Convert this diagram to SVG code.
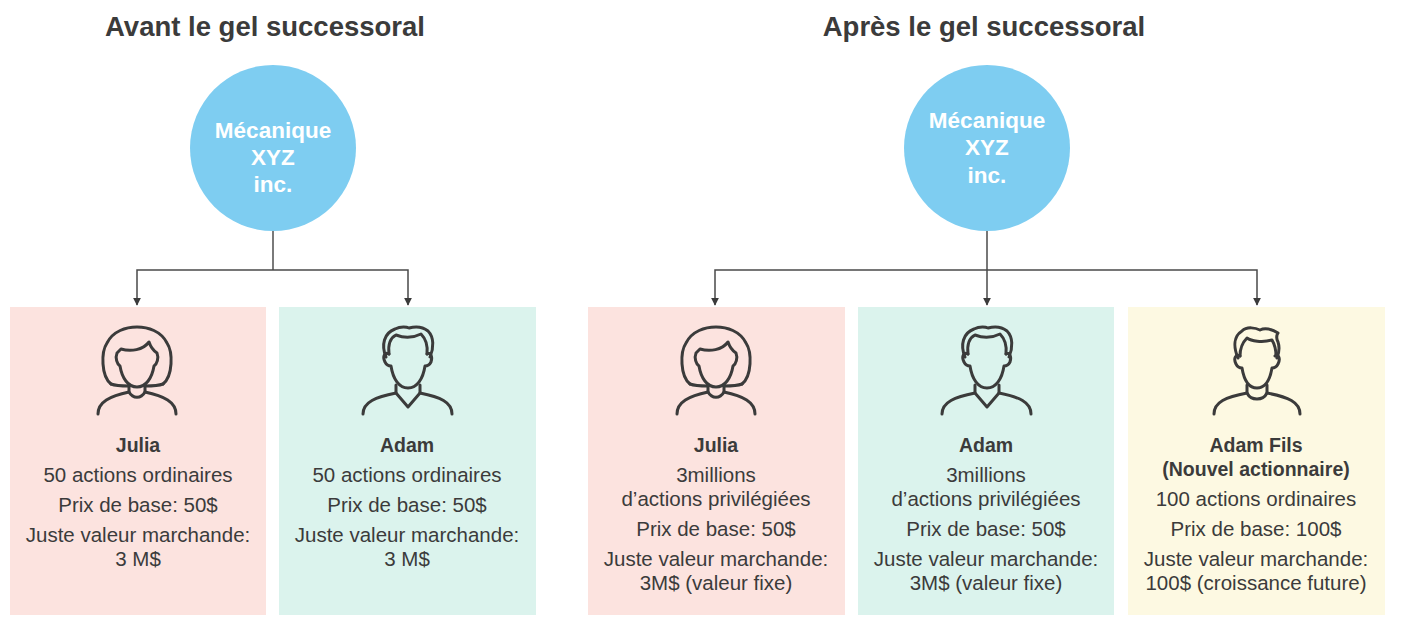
<svg xmlns="http://www.w3.org/2000/svg" width="1405" height="632" viewBox="0 0 1405 632">
<defs>
<style>
.title{font-family:"Liberation Sans",Arial,sans-serif;font-weight:bold;font-size:27.5px;fill:#3b3b3b;text-anchor:middle}
.circ{fill:#7ecdf1}
.ctext{font-family:"Liberation Sans",Arial,sans-serif;font-weight:bold;font-size:22.5px;fill:#ffffff;text-anchor:middle}
.pink{fill:#fce3df}
.mint{fill:#dbf3ed}
.cream{fill:#fdf9e2}
.name{font-family:"Liberation Sans",Arial,sans-serif;font-weight:bold;font-size:19.5px;fill:#3b3b3b;text-anchor:middle}
.body{font-family:"Liberation Sans",Arial,sans-serif;font-size:20.5px;fill:#3b3b3b;text-anchor:middle}
.icon{fill:none;stroke:#3b3b3b;stroke-width:3;stroke-linecap:round;stroke-linejoin:round}
.conn{fill:none;stroke:#4a4a4a;stroke-width:1.5}
</style>
<marker id="arr" viewBox="0 0 10 10" refX="9" refY="5" markerWidth="8" markerHeight="8" markerUnits="userSpaceOnUse" orient="auto">
<path d="M0,0 L10,5 L0,10 Z" fill="#3b3b3b"/>
</marker>
<g id="female">
<path class="icon" d="M111,384 C101,376 101,352 107,343 C113,331 126,327 137,327 C148,327 161,331 167,343 C173,352 173,376 163,384"/>
<path class="icon" d="M121,349 C131,352 143,350 149,342 C151,348 154,351 157,353 C159,358 157,364 154,366 C152,378 146,387 137,387 C128,387 122,378 120,366 C117,364 115,358 117,353 Z"/>
<path class="icon" d="M129,385 L129,392 M145,385 L145,392"/>
<path class="icon" d="M98,414 C98,402 110,396 129,392 C133,399 141,399 145,392 C164,396 176,402 176,414"/>
<path class="icon" d="M111,384 C116,386 123,386 129,386 M163,384 C158,386 151,386 145,386"/>
</g>
<g id="male">
<path class="icon" d="M386,357 C381,345 384,333 395,329 C401,326 407,327 409,328 C416,326 423,327 428,331 C434,337 434,348 430,357"/>
<path class="icon" d="M389,354 C388,345 390,338 396,335 C401,337 411,339 421,334 C425,338 428,345 427,354"/>
<path class="icon" d="M389,354 C385,352 382,356 385,362 C387,366 389,366 391,366 C393,379 399,388 408,388 C417,388 423,379 425,366 C427,366 429,366 431,362 C433,356 430,352 427,354"/>
<path class="icon" d="M396,385 L396,393 M420,385 L420,393"/>
<path class="icon" d="M363,414 C363,402 376,397 396,393 L408,407 L420,393 C440,397 452,402 452,414"/>
</g>
<g id="boy">
<path class="icon" d="M1238,358 C1233,346 1234,336 1242,331 C1247,326 1256,328 1260,330 C1266,327 1273,330 1278,333 C1276,336 1276,338 1278,342 C1280,348 1279,353 1277,358"/>
<path class="icon" d="M1240,356 C1240,349 1243,342 1247,338 C1251,341 1262,343 1272,340 C1275,345 1276,351 1276,356"/>
<path class="icon" d="M1240,356 C1236,354 1233,358 1236,364 C1238,368 1240,368 1242,368 C1244,380 1249,388 1257,388 C1265,388 1270,380 1272,368 C1274,368 1276,368 1278,364 C1281,358 1278,354 1275,356"/>
<path class="icon" d="M1247,385 L1247,393 M1267,385 L1267,393"/>
<path class="icon" d="M1214,414 C1214,402 1226,397 1247,393 C1251,401 1263,401 1267,393 C1288,397 1300,402 1300,414"/>
</g>
</defs>
<rect width="1405" height="632" fill="#ffffff"/>

<text class="title" x="265" y="36">Avant le gel successoral</text>
<text class="title" x="984" y="36">Après le gel successoral</text>

<g id="connectors">
<path class="conn" d="M273,231 L273,270" style="stroke:#7a7a7a;stroke-width:2"/>
<path class="conn" d="M273,270 L137,270 L137,305" marker-end="url(#arr)"/>
<path class="conn" d="M273,270 L408,270 L408,305" marker-end="url(#arr)"/>
<path class="conn" d="M987,231 L987,305" marker-end="url(#arr)"/>
<path class="conn" d="M987,270 L715,270 L715,305" marker-end="url(#arr)"/>
<path class="conn" d="M987,270 L1257,270 L1257,305" marker-end="url(#arr)"/>
</g>

<g id="company-before">
<circle class="circ" cx="273" cy="148" r="83"/>
<text class="ctext" x="273" y="138">Mécanique</text>
<text class="ctext" x="273" y="165">XYZ</text>
<text class="ctext" x="273" y="192">inc.</text>
</g>

<g id="company-after">
<circle class="circ" cx="987" cy="148" r="83"/>
<text class="ctext" x="987" y="128">Mécanique</text>
<text class="ctext" x="987" y="155">XYZ</text>
<text class="ctext" x="987" y="183">inc.</text>
</g>

<g id="julia-before">
<rect class="pink" x="10" y="307" width="256" height="308"/>
<use href="#female"/>
<text class="name" x="138" y="452">Julia</text>
<text class="body" x="138" y="482">50 actions ordinaires</text>
<text class="body" x="138" y="512">Prix de base: 50$</text>
<text class="body" x="138" y="542">Juste valeur marchande:</text>
<text class="body" x="138" y="566">3 M$</text>
</g>

<g id="adam-before">
<rect class="mint" x="279" y="307" width="257" height="308"/>
<use href="#male"/>
<text class="name" x="407" y="452">Adam</text>
<text class="body" x="407" y="482">50 actions ordinaires</text>
<text class="body" x="407" y="512">Prix de base: 50$</text>
<text class="body" x="407" y="542">Juste valeur marchande:</text>
<text class="body" x="407" y="566">3 M$</text>
</g>

<g id="julia-after">
<rect class="pink" x="588" y="307" width="257" height="308"/>
<use href="#female" transform="translate(579,0)"/>
<text class="name" x="716" y="452">Julia</text>
<text class="body" x="716" y="482">3millions</text>
<text class="body" x="716" y="506">d’actions privilégiées</text>
<text class="body" x="716" y="536">Prix de base: 50$</text>
<text class="body" x="716" y="566">Juste valeur marchande:</text>
<text class="body" x="716" y="590">3M$ (valeur fixe)</text>
</g>

<g id="adam-after">
<rect class="mint" x="858" y="307" width="256" height="308"/>
<use href="#male" transform="translate(579,0)"/>
<text class="name" x="986" y="452">Adam</text>
<text class="body" x="986" y="482">3millions</text>
<text class="body" x="986" y="506">d’actions privilégiées</text>
<text class="body" x="986" y="536">Prix de base: 50$</text>
<text class="body" x="986" y="566">Juste valeur marchande:</text>
<text class="body" x="986" y="590">3M$ (valeur fixe)</text>
</g>

<g id="adam-fils">
<rect class="cream" x="1128" y="307" width="257" height="308"/>
<use href="#boy"/>
<text class="name" x="1256" y="452">Adam Fils</text>
<text class="name" x="1256" y="476">(Nouvel actionnaire)</text>
<text class="body" x="1256" y="506">100 actions ordinaires</text>
<text class="body" x="1256" y="536">Prix de base: 100$</text>
<text class="body" x="1256" y="566">Juste valeur marchande:</text>
<text class="body" x="1256" y="590">100$ (croissance future)</text>
</g>
</svg>
